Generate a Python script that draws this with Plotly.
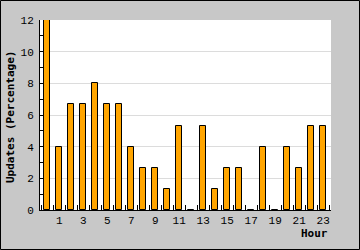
import plotly.graph_objects as go

hours = list(range(24))
updates_pct = [12, 4, 6.67, 6.67, 8, 6.67, 6.67, 4, 2.67, 2.67, 1.33, 5.33,
               0, 5.33, 1.33, 2.67, 2.67, 0, 4, 0, 4, 2.67, 5.33, 5.33]
x_tick_vals = [1, 3, 5, 7, 9, 11, 13, 15, 17, 19, 21, 23]
x_tick_text = [str(v) for v in x_tick_vals]
y_tick_vals = [0, 2, 4, 6, 8, 10, 12]

W, H = 360, 250
ML, MR, MT, MB = 40, 29, 20, 40
PW, PH = W - ML - MR, H - MT - MB

mono = "Liberation Mono, DejaVu Sans Mono, monospace"
bold_mono = "DejaVu Sans Mono, monospace"

fig = go.Figure()
fig.add_trace(go.Bar(
    x=hours, y=updates_pct, width=0.5,
    marker=dict(color="#ffa500", line=dict(color="black", width=1)),
))

def px_x(p):
    return (p - ML) / PW

def px_y(p):
    return (H - MB - p) / PH

fig.update_layout(
    width=W, height=H,
    margin=dict(l=ML, r=MR, t=MT, b=MB),
    paper_bgcolor="#c8c8c8",
    plot_bgcolor="white",
    showlegend=False,
    bargap=0,
    xaxis=dict(
        range=[-0.6, 23.65],
        tickmode="array", tickvals=x_tick_vals, ticktext=x_tick_text,
        ticks="", showgrid=False, zeroline=False,
        showline=True, linecolor="black", linewidth=1,
        tickfont=dict(family=mono, size=11, color="black"),
        minor=dict(tickmode="linear", tick0=0.5, dtick=1, ticks="inside",
                   ticklen=5, tickcolor="black", tickwidth=1, showgrid=False),
        fixedrange=True,
    ),
    yaxis=dict(
        range=[0, 12],
        tickmode="array", tickvals=y_tick_vals,
        ticks="inside", ticklen=4, tickcolor="black",
        showgrid=True, gridcolor="#dcdcdc", gridwidth=1,
        zeroline=False,
        showline=True, linecolor="black", linewidth=1,
        tickfont=dict(family=mono, size=11, color="black"),
        ticklabelstandoff=3,
        minor=dict(tickmode="linear", tick0=0, dtick=1, ticks="inside",
                   ticklen=4, tickcolor="black", tickwidth=1, showgrid=False),
        fixedrange=True,
    ),
    shapes=[dict(
        type="rect", xref="paper", yref="paper",
        x0=px_x(0.5), x1=px_x(W - 0.5), y0=px_y(H - 0.5), y1=px_y(0.5),
        line=dict(color="black", width=1), fillcolor="rgba(0,0,0,0)",
        layer="above",
    )],
    annotations=[
        dict(text="<b>Updates (Percentage)</b>", textangle=-90,
             xref="paper", yref="paper", x=px_x(10), y=px_y(117),
             xanchor="center", yanchor="middle", showarrow=False,
             font=dict(family=bold_mono, size=11, color="black")),
        dict(text="<b>Hour</b>", xref="paper", yref="paper",
             x=px_x(330), y=px_y(233), xanchor="right", yanchor="middle",
             showarrow=False,
             font=dict(family=bold_mono, size=11, color="black")),
    ],
)

fig.write_html("out.html")
